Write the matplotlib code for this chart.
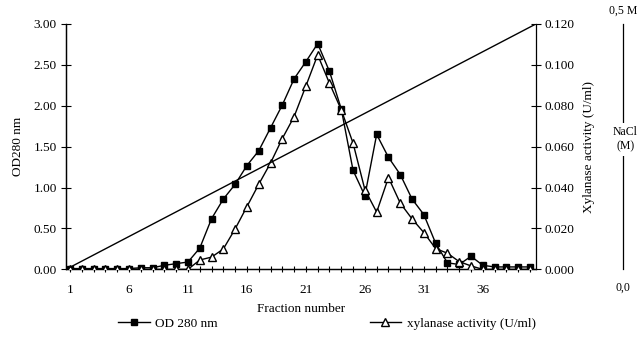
import numpy as np
import matplotlib
matplotlib.use("Agg")
from matplotlib import pyplot as plt

plt.rcParams['font.family'] = ['Liberation Serif', 'DejaVu Serif']
plt.rcParams['font.size'] = 9.5

# fractions 1..40
fraction = list(range(1, 41))
od280 = [0.01, 0.01, 0.01, 0.01, 0.01, 0.01, 0.02, 0.02, 0.05, 0.07,
         0.09, 0.26, 0.62, 0.86, 1.04, 1.27, 1.45, 1.73, 2.01, 2.33,
         2.54, 2.76, 2.42, 1.96, 1.21, 0.90, 1.65, 1.37, 1.16, 0.86,
         0.67, 0.32, 0.08, 0.06, 0.16, 0.05, 0.03, 0.03, 0.03, 0.03]
xylanase = [0.0, 0.0, 0.0, 0.0, 0.0, 0.0, 0.0, 0.0, 0.0, 0.0,
            0.0, 0.0046, 0.0060, 0.0100, 0.0198, 0.0307, 0.0416, 0.0520, 0.0640, 0.0747,
            0.0897, 0.1049, 0.0910, 0.0780, 0.0617, 0.0390, 0.0280, 0.0449, 0.0324, 0.0247,
            0.0180, 0.0102, 0.0079, 0.0038, 0.0017, 0.0, 0.0, 0.0, 0.0, 0.0]
# linear NaCl gradient across the run
nacl = [0.0, 0.5]
xlim = (0.66, 40.5)

fig = plt.figure(figsize=(6.41, 3.38), dpi=100)
ax = fig.add_axes([0.103, 0.203, 0.733, 0.726])
ax2 = ax.twinx()
ax3 = ax.twinx()

ax.plot(fraction, od280, '-s', color='black', lw=1.0, ms=4.5, label='OD 280 nm', zorder=3)
ax2.plot(fraction, xylanase, '-^', color='black', mfc='white', lw=1.0, ms=5.5,
         label='xylanase activity (U/ml)', zorder=3)
ax3.plot(xlim, nacl, color='black', lw=1.0)

ax.set_xlim(*xlim)
ax.set_ylim(0, 3.0)
ax2.set_ylim(0, 0.12)
ax3.set_ylim(0, 0.5)

ax.set_xticks(range(1, 40, 5))
ax.set_xticks(fraction, minor=True)
ax.set_yticks(np.arange(0, 3.01, 0.5))
ax.yaxis.set_major_formatter('{x:.2f}')
ax2.set_yticks(np.arange(0, 0.1201, 0.02))
ax2.yaxis.set_major_formatter('{x:.3f}')
ax.tick_params(axis='x', which='both', direction='inout', length=5, width=0.8, pad=8)
ax.tick_params(axis='x', which='minor', length=4)
ax.tick_params(axis='y', direction='inout', length=7, width=0.8, pad=3)
ax2.tick_params(axis='y', direction='inout', length=7, width=0.8, pad=3)

for a in (ax, ax2):
    a.spines['top'].set_visible(False)
    for s in a.spines.values():
        s.set_linewidth(0.9)
ax.spines['right'].set_visible(False)

ax.set_xlabel('Fraction number', labelpad=5)
ax.set_ylabel('OD280 nm', labelpad=7)
ax2.set_ylabel('Xylanase activity (U/ml)', labelpad=6)

# NaCl scale on the far right
pos = 1.186
for s in ('top', 'left', 'bottom'):
    ax3.spines[s].set_visible(False)
ax3.spines['right'].set_position(('axes', pos))
ax3.spines['right'].set_linewidth(0.9)
ax3.set_yticks([])
ax3.text(pos, 1.03, '0,5 M', transform=ax3.transAxes, ha='center', va='bottom', fontsize=8.5)
ax3.text(pos, -0.05, '0,0', transform=ax3.transAxes, ha='center', va='top', fontsize=8.5)
ax3.text(pos + 0.004, 0.53, 'NaCl\n(M)', transform=ax3.transAxes, ha='center', va='center',
         fontsize=8.5, bbox=dict(facecolor='white', edgecolor='none', pad=2), linespacing=1.3)

h1, l1 = ax.get_legend_handles_labels()
h2, l2 = ax2.get_legend_handles_labels()
fig.legend(h1 + h2, l1 + l2, loc='lower center', bbox_to_anchor=(0.51, -0.01), ncol=2,
           frameon=False, columnspacing=11.5, handlelength=2.4, handletextpad=0.4)

fig.savefig('out.png', dpi=100)
